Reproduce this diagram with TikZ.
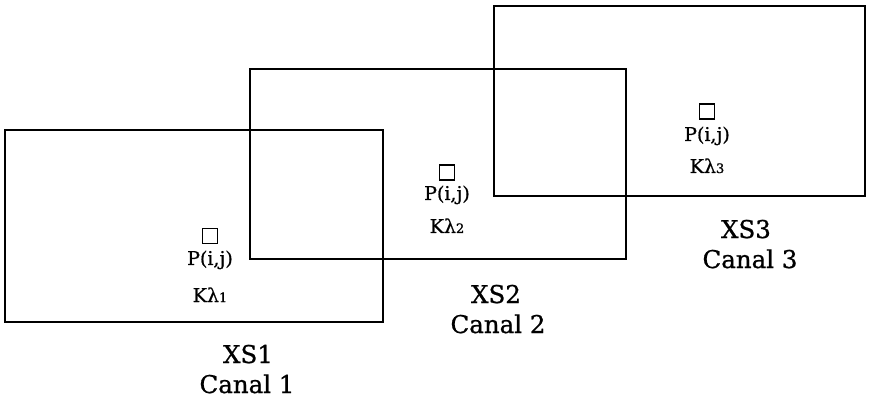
\documentclass[tikz,border=0pt]{standalone}
\usepackage{fontspec}
\setmainfont[FakeBold=0.8,BoldFont={DejaVu Serif}]{DejaVu Serif}
\begin{document}
\begin{tikzpicture}[x=1pt,y=-1pt,
  win/.style={draw,line width=2.2pt,inner sep=0pt,fill=none},
  pix/.style={draw,line width=1.5pt,minimum size=15pt,inner sep=0pt},
  small/.style={anchor=base,inner sep=0pt,font=\fontsize{19}{22}\selectfont\bfseries},
  big/.style={anchor=base,inner sep=0pt,font=\fontsize{24.5}{29}\selectfont\bfseries}]
\useasboundingbox (0,0) rectangle (870,398);
% channel windows
\node[win,minimum width=378pt,minimum height=192pt] (r1) at (194,226) {};
\node[win,minimum width=376pt,minimum height=190pt] (r2) at (438,164) {};
\node[win,minimum width=371pt,minimum height=190pt] (r3) at (679.5,101) {};
% pixels
\node[pix] (s1) at (210,236) {};
\node[pix] (s2) at (447,172.5) {};
\node[pix] (s3) at (707,111.5) {};
\node[small] (p1) at (210,265) {P(i,j)};
\node[small] (k1) at (210,302) {Kλ{\fontsize{13}{16}\selectfont 1}};
\node[small] (p2) at (447,200) {P(i,j)};
\node[small] (k2) at (447,233) {Kλ{\fontsize{13}{16}\selectfont 2}};
\node[small] (p3) at (707,141) {P(i,j)};
\node[small] (k3) at (707,173) {Kλ{\fontsize{13}{16}\selectfont 3}};
% labels
\node[big] (x1) at (248,363) {XS1};
\node[big] (c1) at (247,393) {Canal 1};
\node[big] (x2) at (496,303) {XS2};
\node[big] (c2) at (498,333) {Canal 2};
\node[big] (x3) at (746,238) {XS3};
\node[big] (c3) at (750,268) {Canal 3};
\end{tikzpicture}
\end{document}
